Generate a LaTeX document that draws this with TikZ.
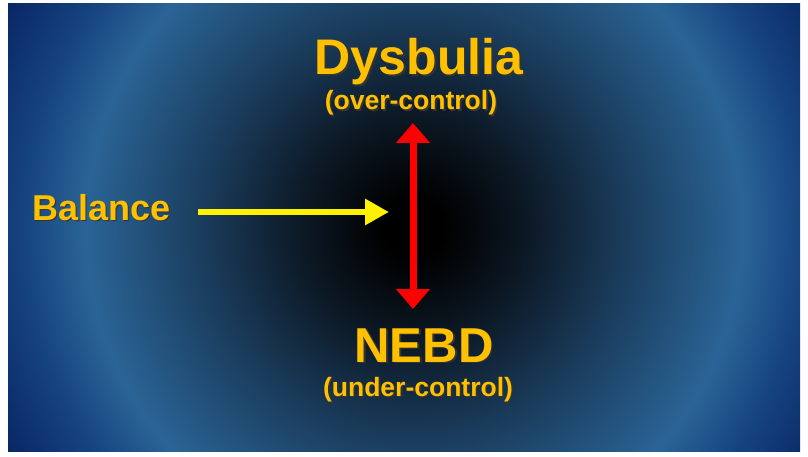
\documentclass[tikz,border=0pt]{standalone}
\usepackage{fontspec}
\setmainfont{Liberation Sans}
\usetikzlibrary{arrows.meta}

\definecolor{slidegold}{RGB}{255,192,0}
\definecolor{glowdark}{RGB}{12,24,36}
\definecolor{glowmid}{RGB}{26,60,92}
\definecolor{glowblue}{RGB}{42,100,150}
\definecolor{glowouter}{RGB}{22,68,128}
\definecolor{glownavy}{RGB}{8,38,100}

% black core fading out to a blue ring and navy corners
\pgfdeclareradialshading{slideglow}{\pgfpoint{0bp}{0bp}}{%
  color(0bp)=(black); color(1.6bp)=(black);
  color(5.9bp)=(glowdark); color(11.2bp)=(glowmid);
  color(17.5bp)=(glowblue); color(20.7bp)=(glowouter);
  color(24.7bp)=(glownavy); color(50bp)=(glownavy)}

% gold text with a dark drop shadow
\newcommand{\shadowtext}[1]{\leavevmode\rlap{\kern1.6pt\raisebox{-1.6pt}{\textcolor{black!80}{#1}}}#1}

\begin{document}
\begin{tikzpicture}[x=1pt,y=1pt,
    label/.style={inner sep=0pt,anchor=base,text=slidegold},
    big/.style={font=\bfseries\fontsize{50}{54}\selectfont},
    small/.style={font=\bfseries\fontsize{26.5}{30}\selectfont}]
    \useasboundingbox[fill=white] (0,0) rectangle (808,456);

    % slide background
    \begin{scope}
        \clip (8,5) rectangle (800,452);
        \shade[shading=slideglow] (414-470,228-470) rectangle (414+470,228+470);
    \end{scope}

    % Dysbulia
    \node[label,big] (dys) at (419,381) {\shadowtext{Dysbulia}};
    \node[label,small] (over) at (411,346) {\shadowtext{(over-control)}};

    % Balance
    \node[label,font=\bfseries\fontsize{36}{40}\selectfont,anchor=base west] (bal) at (32,236) {\shadowtext{Balance}};

    % NEBD
    \node[label,font=\bfseries\fontsize{49}{52}\selectfont] (nebd) at (424,94) {\shadowtext{NEBD}};
    \node[label,small] (under) at (418,60) {\shadowtext{(under-control)}};

    % arrows
    \coordinate (balstart) at (198,244);
    \coordinate (balend) at (389,244);
    \coordinate (topTip) at (413,333);
    \coordinate (bottomTip) at (413,147);
    \draw[yellow,line width=6pt,-{Triangle[length=24pt,width=25pt]}] (balstart) -- (balend);
    \draw[red,line width=7pt,{Triangle[length=20pt,width=33pt]}-{Triangle[length=20pt,width=33pt]}] (topTip) -- (bottomTip);
\end{tikzpicture}
\end{document}
